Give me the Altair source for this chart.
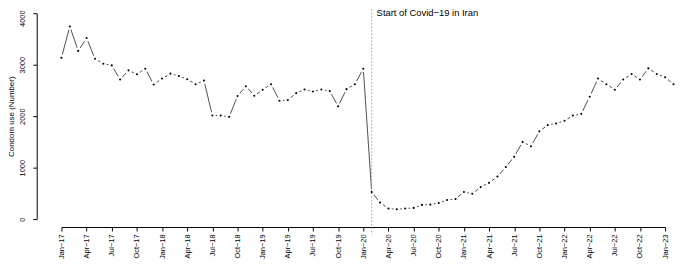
import json
import altair as alt
import pandas as pd

# Monthly condom use, Jan-17 .. Feb-23
values = [
    3135, 3744, 3269, 3519, 3115, 3019, 2987, 2712, 2891, 2814, 2923, 2615,   # 2017
    2731, 2827, 2782, 2718, 2622, 2692, 2013, 2013, 1987, 2391, 2583, 2397,   # 2018
    2513, 2622, 2301, 2314, 2449, 2519, 2481, 2519, 2487, 2192, 2525, 2622,   # 2019
    2923, 525, 321, 205, 192, 205, 218, 276, 282, 314, 372, 391,              # 2020
    526, 494, 622, 705, 827, 1013, 1210, 1500, 1417, 1705, 1827, 1859,        # 2021
    1910, 2013, 2045, 2378, 2731, 2622, 2513, 2712, 2820, 2712, 2929, 2820,   # 2022
    2756, 2622,                                                               # 2023
]

tick_labels = [
    "Jan−17", "Apr−17", "Jul−17", "Oct−17",
    "Jan−18", "Apr−18", "Jul−18", "Oct−18",
    "Jan−19", "Apr−19", "Jul−19", "Oct−19",
    "Jan−20", "Apr−20", "Jul−20", "Oct−20",
    "Jan−21", "Apr−21", "Jul−21", "Oct−21",
    "Jan−22", "Apr−22", "Jul−22", "Oct−22",
    "Jan−23",
]
y_ticks = [0, 1000, 2000, 3000, 4000]

covid_month = [37]  # Feb-20
annotation = ["Start of Covid−19 in Iran"]

FONT = "Liberation Sans"

df = pd.DataFrame({"m": list(range(len(values))), "v": values})
df_covid = pd.DataFrame({"m": covid_month, "t": annotation})

label_expr = json.dumps(tick_labels, ensure_ascii=False) + "[round(datum.value/3)]"

x_enc = alt.X(
    "m:Q",
    scale=alt.Scale(domain=[0, 72], nice=False, zero=False),
    axis=alt.Axis(
        values=list(range(0, 73, 3)),
        tickCount=40,
        labelExpr=label_expr,
        offset=8,
        tickSize=4,
        tickColor="black",
        domainColor="black",
        labelAngle=270,
        labelAlign="right",
        labelBaseline="middle",
        labelPadding=3,
        labelFontSize=7.5,
        labelFont=FONT,
        labelColor="black",
        labelOverlap=False,
        labelFlush=False,
        grid=False,
        title=None,
    ),
)
y_enc = alt.Y(
    "v:Q",
    scale=alt.Scale(domain=[0, 4000], nice=False),
    axis=alt.Axis(
        values=y_ticks,
        format="d",
        offset=25,
        tickSize=4,
        tickColor="black",
        domainColor="black",
        labelAngle=270,
        labelAlign="center",
        labelBaseline="bottom",
        labelPadding=6,
        labelFontSize=7.5,
        labelFont=FONT,
        labelColor="black",
        labelOverlap=False,
        labelFlush=False,
        labelOffset={"condition": {"test": "datum.value >= 4000", "value": 5}, "value": 0},
        grid=False,
        title="Condom use (Number)",
        titleFont=FONT,
        titleFontSize=8,
        titleFontWeight="normal",
        titleColor="black",
        titlePadding=3,
    ),
)

base = alt.Chart(df)
line = base.mark_line(color="#3a3a3a", strokeWidth=0.9).encode(x=x_enc, y=y_enc)
# white discs that cut the line around each point (R type="b" look)
gaps = base.mark_circle(color="#ffffff", opacity=1, size=48).encode(x="m:Q", y="v:Q")
dots = base.mark_circle(color="black", opacity=1, size=4.5).encode(x="m:Q", y="v:Q")

rule = alt.Chart(df_covid).mark_rule(color="#b89898", strokeDash=[1.5, 2], strokeWidth=1).encode(
    x="m:Q", y=alt.value(-4), y2=alt.value(224)
)
text = alt.Chart(df_covid).mark_text(
    align="left", baseline="middle", dx=5, fontSize=9.5, font=FONT, color="black"
).encode(x="m:Q", y=alt.value(-0.5), text="t:N")

chart = (
    alt.layer(line, gaps, rule, dots, text)
    .properties(
        width=610,
        height=208,
        autosize=alt.AutoSizeParams(type="none"),
        padding={"left": 54, "top": 4, "right": 12, "bottom": 40},
    )
    .configure_view(stroke=None)
)

chart.save("out.html", embed_options={"renderer": "svg", "actions": False})
